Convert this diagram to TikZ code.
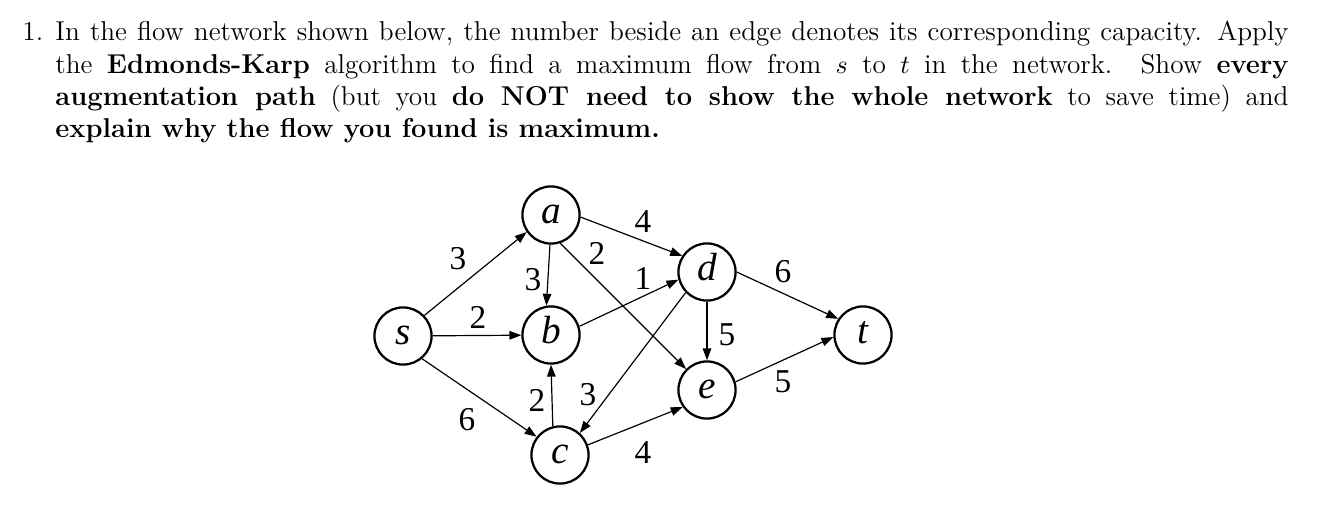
\documentclass[tikz,border=0pt]{standalone}
\usepackage{fontspec}
\newfontfamily\timesfont{Liberation Serif}
\usepackage{tikz}
\usetikzlibrary{arrows.meta}

\begin{document}
\begin{tikzpicture}[x=0.42pt, y=-0.42pt,
  every node/.style={inner sep=0pt},
  vertex/.style={draw, circle, line width=0.95pt, minimum size=24pt, font=\timesfont\itshape\fontsize{16.5}{16.5}\selectfont, text height=0.72em, text depth=0.02em},
  weight/.style={font=\timesfont\fontsize{14}{14}\selectfont},
  flow/.style={-{Triangle[length=5pt, width=3.6pt]}, line width=0.5pt}]
  \useasboundingbox (0,0) rectangle (1342,524);
  \node[anchor=base west, font=\fontsize{11.45}{13.57}\selectfont] (num) at (22,40.7) {1.};
  \node[anchor=base west, text width=517.9pt, align=justify, font=\fontsize{11.45}{13.57}\selectfont] (question) at (55,40.7) {In the flow network shown below, the number beside an edge denotes its corresponding capacity. Apply\linebreak the \textbf{Edmonds-Karp} algorithm to find a maximum flow from $s$ to $t$ in the network. Show \textbf{every}\linebreak \textbf{augmentation path} (but you \textbf{do NOT need to show the whole network} to save time) and\linebreak \textbf{explain why the flow you found is maximum.}};
  \node[vertex] (s) at (403,336) {s};
  \node[vertex] (a) at (551,215) {a};
  \node[vertex] (b) at (551,335) {b};
  \node[vertex] (c) at (560,455) {c};
  \node[vertex] (d) at (707,272) {d};
  \node[vertex] (e) at (707,390) {e};
  \node[vertex] (t) at (863,335) {t};
  \draw[flow] (s.44) -- (a.215);
  \draw[flow] (s) -- (b);
  \draw[flow] (s.-50) -- (c.142);
  \draw[flow] (a.-92) -- (b.99);
  \draw[flow] (a.-4) -- (d.147);
  \draw[flow] (a.-72) -- (e.135);
  \draw[flow] (b.17) -- (d.195);
  \draw[flow] (c.104) -- (b.-90);
  \draw[flow] (d.-136) -- (c.48);
  \draw[flow] (c.20) -- (e.215);
  \draw[flow] (d.-90) -- (e.90);
  \draw[flow] (d.0) -- (t.147);
  \draw[flow] (e.16) -- (t.184);
  \node[weight] (wsa) at (458,259) {3};
  \node[weight] (wsb) at (478,317) {2};
  \node[weight] (wsc) at (467,420) {6};
  \node[weight] (wab) at (533,280) {3};
  \node[weight] (wad) at (643,222) {4};
  \node[weight] (wae) at (597,253) {2};
  \node[weight] (wbd) at (643,278) {1};
  \node[weight] (wcb) at (537,400) {2};
  \node[weight] (wdc) at (588,395) {3};
  \node[weight] (wce) at (643,453) {4};
  \node[weight] (wdt) at (783,272) {6};
  \node[weight] (wde) at (727,335) {5};
  \node[weight] (wet) at (783,382) {5};
\end{tikzpicture}
\end{document}
